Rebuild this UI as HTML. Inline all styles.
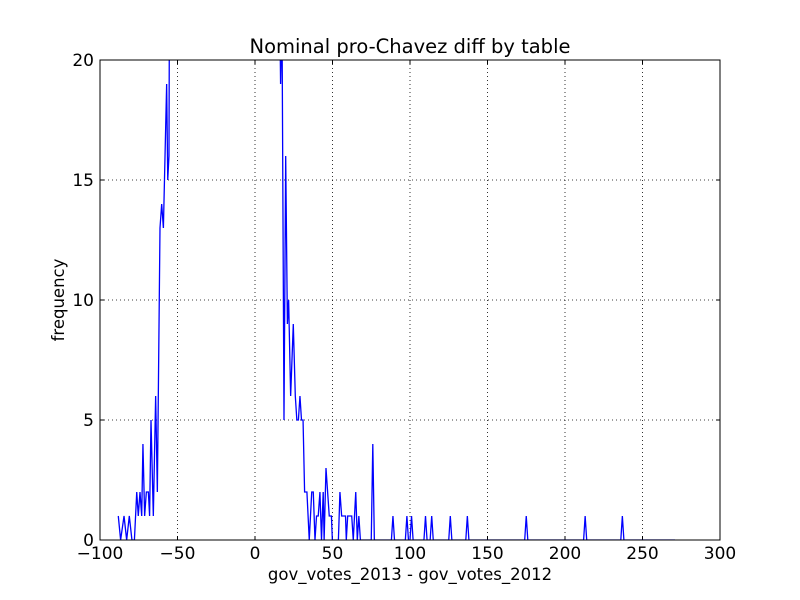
<!DOCTYPE html>
<html><head><meta charset="utf-8"><style>
body{margin:0;background:#fff;}
svg{display:block;font-family:"DejaVu Sans","Liberation Sans",sans-serif;}
</style></head><body>
<svg id="chart" width="800" height="600">
<rect x="0" y="0" width="800" height="600" fill="#fff"/>
<text x="410" y="53" font-size="19.5" text-anchor="middle">Nominal pro-Chavez diff by table</text>
<text x="410" y="580" font-size="16.5" text-anchor="middle">gov_votes_2013 - gov_votes_2012</text>
<text x="64" y="300" font-size="16.5" text-anchor="middle" transform="rotate(-90 64 300)">frequency</text>
<defs><clipPath id="pc"><rect x="100" y="60" width="620" height="480"/></clipPath></defs>
<g id="grid"></g>
<g id="ticks"></g>
<path id="line" fill="none" stroke="#0000ff" stroke-width="1.3" clip-path="url(#pc)"/>
<rect x="100" y="60" width="620" height="480" fill="none" stroke="#000" stroke-width="1"/>
</svg>
<script>
const xTicks = [-100,-50,0,50,100,150,200,250,300];
const yTicks = [0,5,10,15,20];
const xVals = [-88.2,-86.7,-84.5,-82.8,-81.1,-79.4,-77.8,-76.3,-75.3,-74.2,-73.1,-72.3,-71.2,-70.1,-68.8,-68,-67.1,-65.6,-64.1,-63,-61.3,-60.2,-59.1,-57,-56.3,-55.5,-54.4,
 14,16,16.5,17.4,18.7,19.8,20.9,21.7,23,24.7,26,27,28,29,30,31,32,33.5,35,36.6,37.6,38.7,39.7,40.8,41.9,42.9,44,44.6,45.8,47.9,49.3,49.9,53.8,54.8,55.9,58.4,58.9,59.8,62.4,63.4,65,66,67,68,75,76,77,
 88,89,90,97,98,99,100,101,102,109,110,111,113,114,115,125,126,127,136,137,138,174,175,176,212,213,214,236,237,238,271];
const yVals = [1,0,1,0,1,0,0,2,1,2,1,4,1,2,2,1,5,1,6,2,13,14,13,19,15,16,40,
 40,22,19,22,5,16,9,10,6,9,6,5,5,6,5,5,2,2,0,2,2,0,1,1,2,0,2,0,3,1,1,0,0,2,1,1,0,1,1,0,2,0,1,0,0,4,0,
 0,1,0,0,1,0,0,1,0,0,1,0,0,1,0,0,1,0,0,1,0,0,1,0,0,1,0,0,1,0,0];
const X = v => 100 + (v + 100) / 400 * 620;
const Y = v => 540 - v / 20 * 480;
const NS = 'http://www.w3.org/2000/svg';
const grid = document.getElementById('grid'), ticks = document.getElementById('ticks');
function mk(tag, attrs, parent){const e=document.createElementNS(NS,tag);for(const k in attrs)e.setAttribute(k,attrs[k]);parent.appendChild(e);return e;}
xTicks.forEach(t=>{
  const x=X(t);
  const g=mk('line',{x1:x,x2:x,y1:60,y2:540,stroke:'#000','stroke-width':0.8,'stroke-dasharray':'1,3'},grid);
  
  
  const a=mk('line',{x1:x,x2:x,y1:540,y2:536,stroke:'#000'},ticks);
  
  
  const b=mk('line',{x1:x,x2:x,y1:60,y2:64,stroke:'#000'},ticks);
  
  
  const tx=mk('text',{x:x,y:559,'font-size':17,'text-anchor':'middle'},ticks);
  tx.textContent=(t<0?'\u2212':'')+Math.abs(t);
  
  
});
yTicks.forEach(t=>{
  const y=Y(t);
  const g=mk('line',{x1:100,x2:720,y1:y,y2:y,stroke:'#000','stroke-width':0.8,'stroke-dasharray':'1,3'},grid);
  
  
  const a=mk('line',{x1:100,x2:104,y1:y,y2:y,stroke:'#000'},ticks);
  
  
  const b=mk('line',{x1:716,x2:720,y1:y,y2:y,stroke:'#000'},ticks);
  
  
  const tx=mk('text',{x:94,y:y+6,'font-size':17,'text-anchor':'end'},ticks);
  tx.textContent=t;
  
  
});
let d='';
xVals.forEach((v,i)=>{d+=(i?'L':'M')+X(v).toFixed(2)+','+Y(yVals[i]).toFixed(2);});
document.getElementById('line').setAttribute('d',d);
</script>
</body></html>
